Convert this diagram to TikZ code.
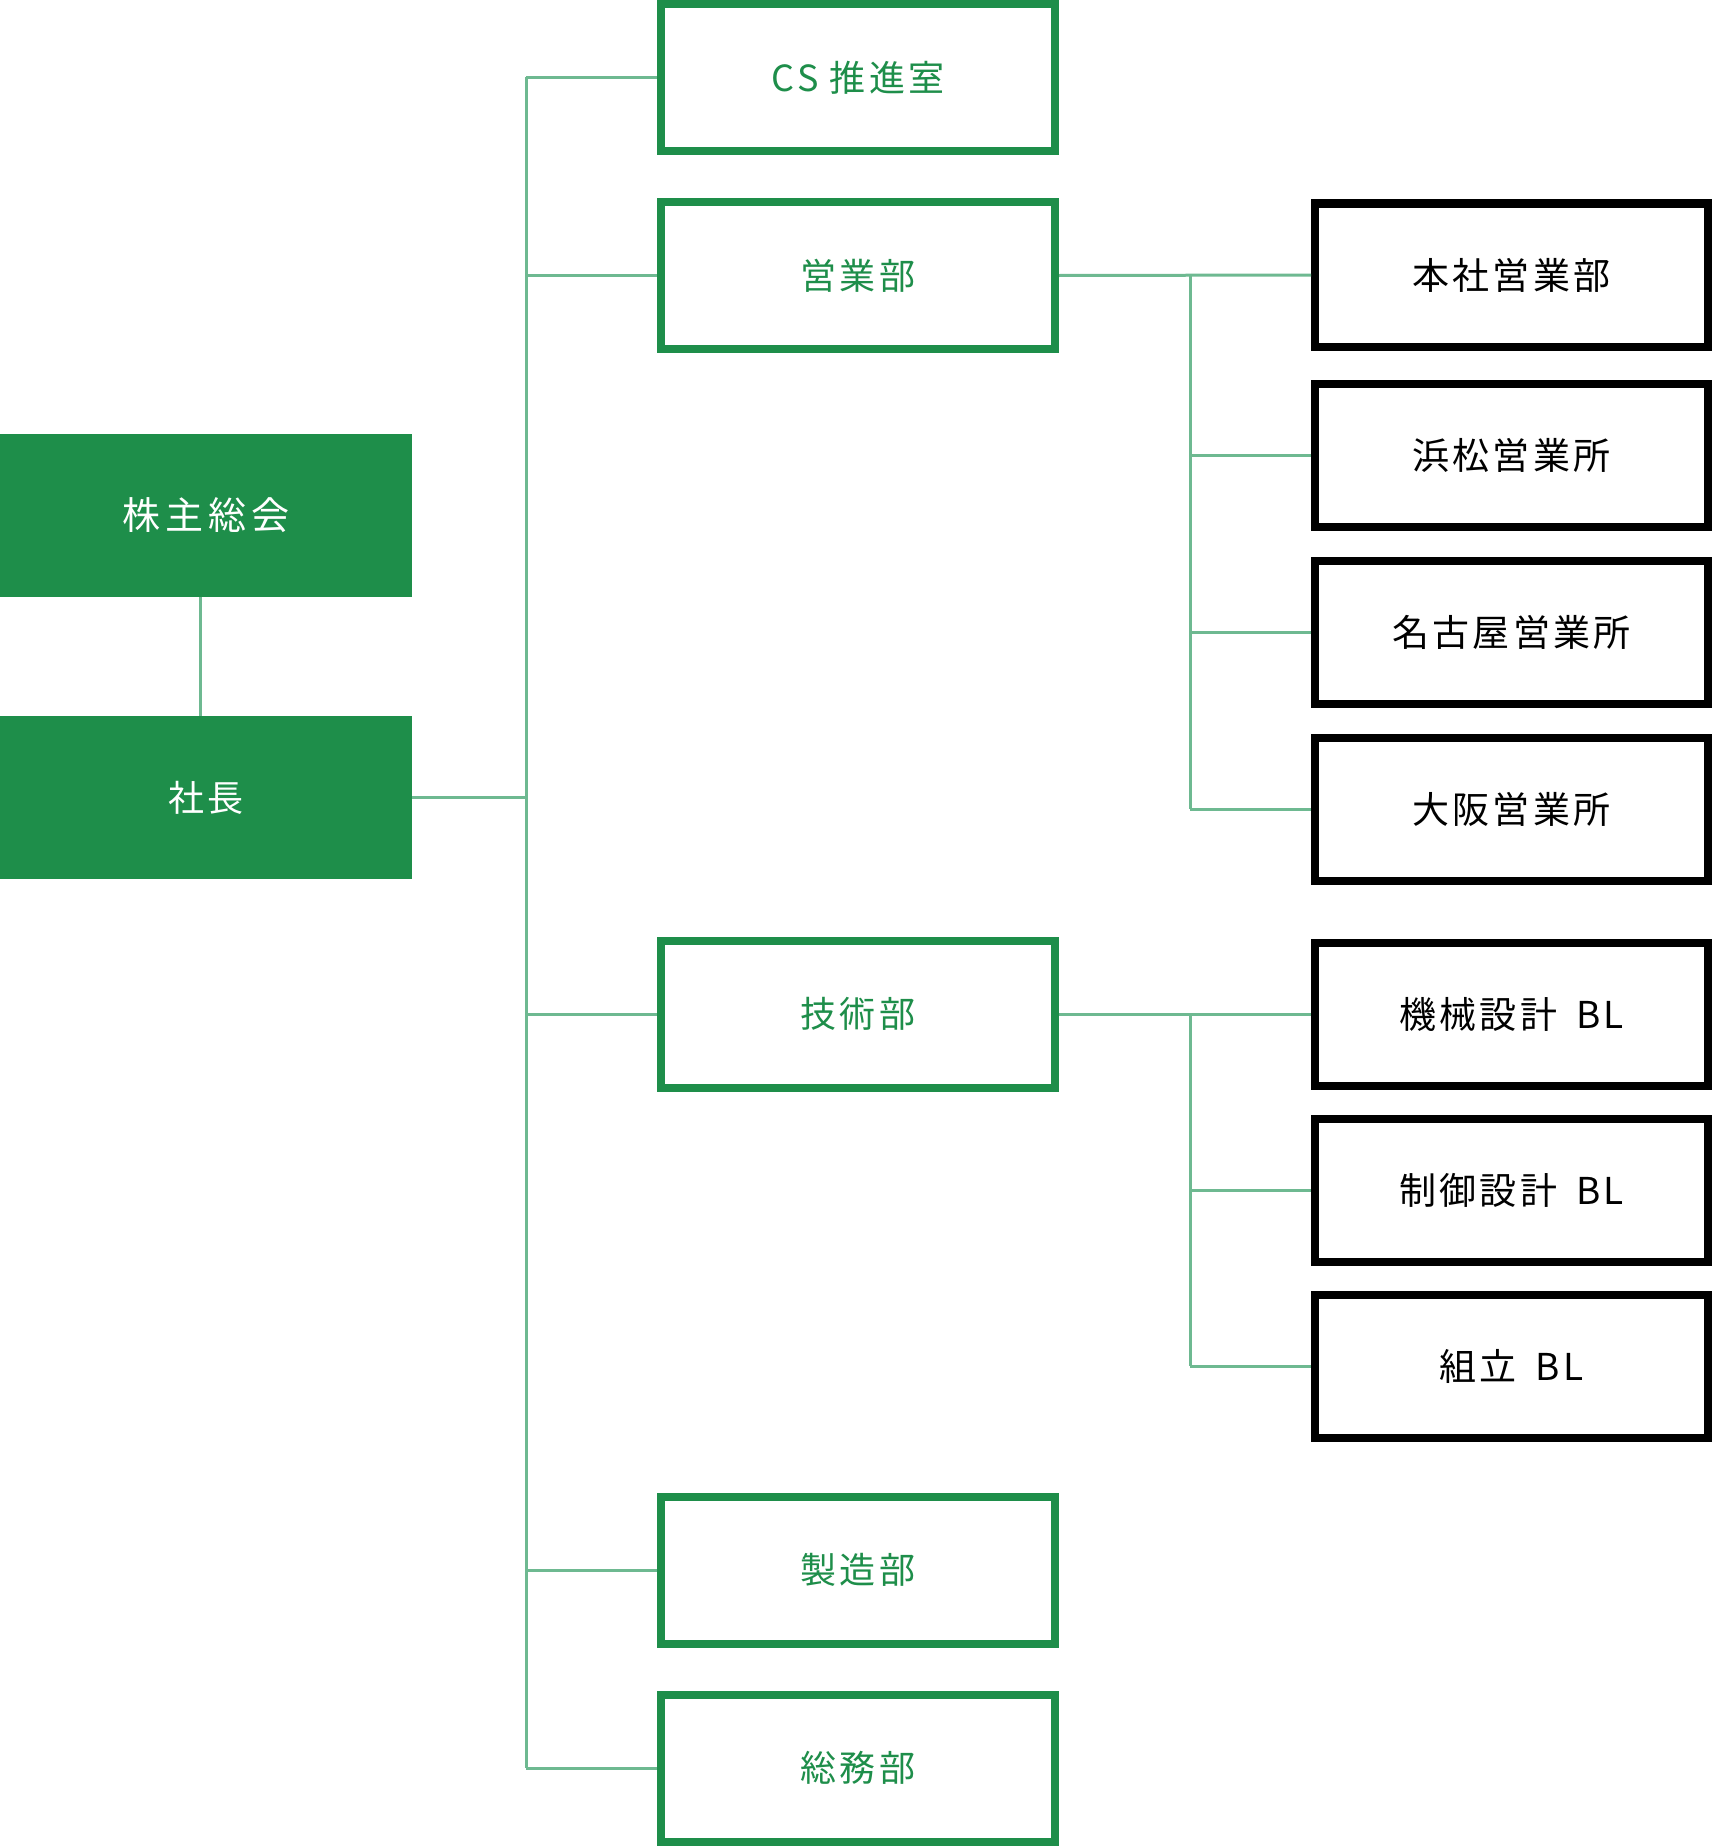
\documentclass[tikz,border=0pt]{standalone}
\usepackage{fontspec}
\setmainfont{Noto Sans CJK JP}[LetterSpace=6]
\newfontfamily\wideCJK{Noto Sans CJK JP}[LetterSpace=9]
\newfontfamily\widerCJK{Noto Sans CJK JP}[LetterSpace=14]
\definecolor{dgreen}{RGB}{30,142,74}
\definecolor{lgreen}{RGB}{110,185,145}
\newcommand{\blsp}{\hspace{19pt}}
\begin{document}
\begin{tikzpicture}[x=1pt,y=-1pt,
  topbox/.style={fill=dgreen,draw=none,minimum width=412pt,minimum height=163pt,inner sep=0pt,text=white},
  deptbox/.style={draw=dgreen,line width=8pt,fill=white,minimum width=394pt,minimum height=147pt,inner sep=0pt,text=dgreen,font=\wideCJK\fontsize{36}{40}\selectfont},
  subbox/.style={draw=black,line width=8pt,fill=white,minimum width=393pt,minimum height=143pt,inner sep=0pt,text=black,font=\wideCJK\fontsize{37}{42}\selectfont},
  conn/.style={draw=lgreen,line width=3pt}]
\useasboundingbox (0,0) rectangle (1713,1846);
% top
\node[topbox,font=\widerCJK\fontsize{38}{44}\selectfont] (sh) at (206,515.5) {株主総会};
\node[topbox,font=\fontsize{36}{42}\selectfont] (pres) at (206,797.5) {社長};
% departments
\node[deptbox] (cs) at (858,77.5) {CS 推進室};
\node[deptbox] (eig) at (858,275.5) {営業部};
\node[deptbox] (gij) at (858,1014) {技術部};
\node[deptbox] (sei) at (858,1570) {製造部};
\node[deptbox] (som) at (858,1768) {総務部};
% sub units
\node[subbox] (hon) at (1511.5,275) {本社営業部};
\node[subbox] (ham) at (1511.5,455) {浜松営業所};
\node[subbox] (nag) at (1511.5,632.5) {名古屋営業所};
\node[subbox] (osa) at (1511.5,809) {大阪営業所};
\node[subbox] (kik) at (1511.5,1014) {機械設計\blsp BL};
\node[subbox] (sei2) at (1511.5,1190) {制御設計\blsp BL};
\node[subbox] (kum) at (1511.5,1366) {組立\blsp BL};
\coordinate (T) at (526,0);
\coordinate (B) at (1190,0);
% connectors
\draw[conn] ([xshift=-6pt]sh.south) -- ([xshift=-6pt]pres.north);
\draw[conn] (pres.east) -- (pres.east -| T);
\draw[conn] (cs.west -| T) -- (som.west -| T);
\foreach \n in {cs,eig,gij,sei,som} \draw[conn] (\n.west -| T) -- (\n.west);
\draw[conn] (eig.east) -- (hon.west);
\draw[conn] (hon.west -| B) -- (osa.west -| B);
\foreach \n in {ham,nag,osa} \draw[conn] (\n.west -| B) -- (\n.west);
\draw[conn] (gij.east) -- (kik.west);
\draw[conn] (kik.west -| B) -- (kum.west -| B);
\foreach \n in {sei2,kum} \draw[conn] (\n.west -| B) -- (\n.west);
\end{tikzpicture}
\end{document}
